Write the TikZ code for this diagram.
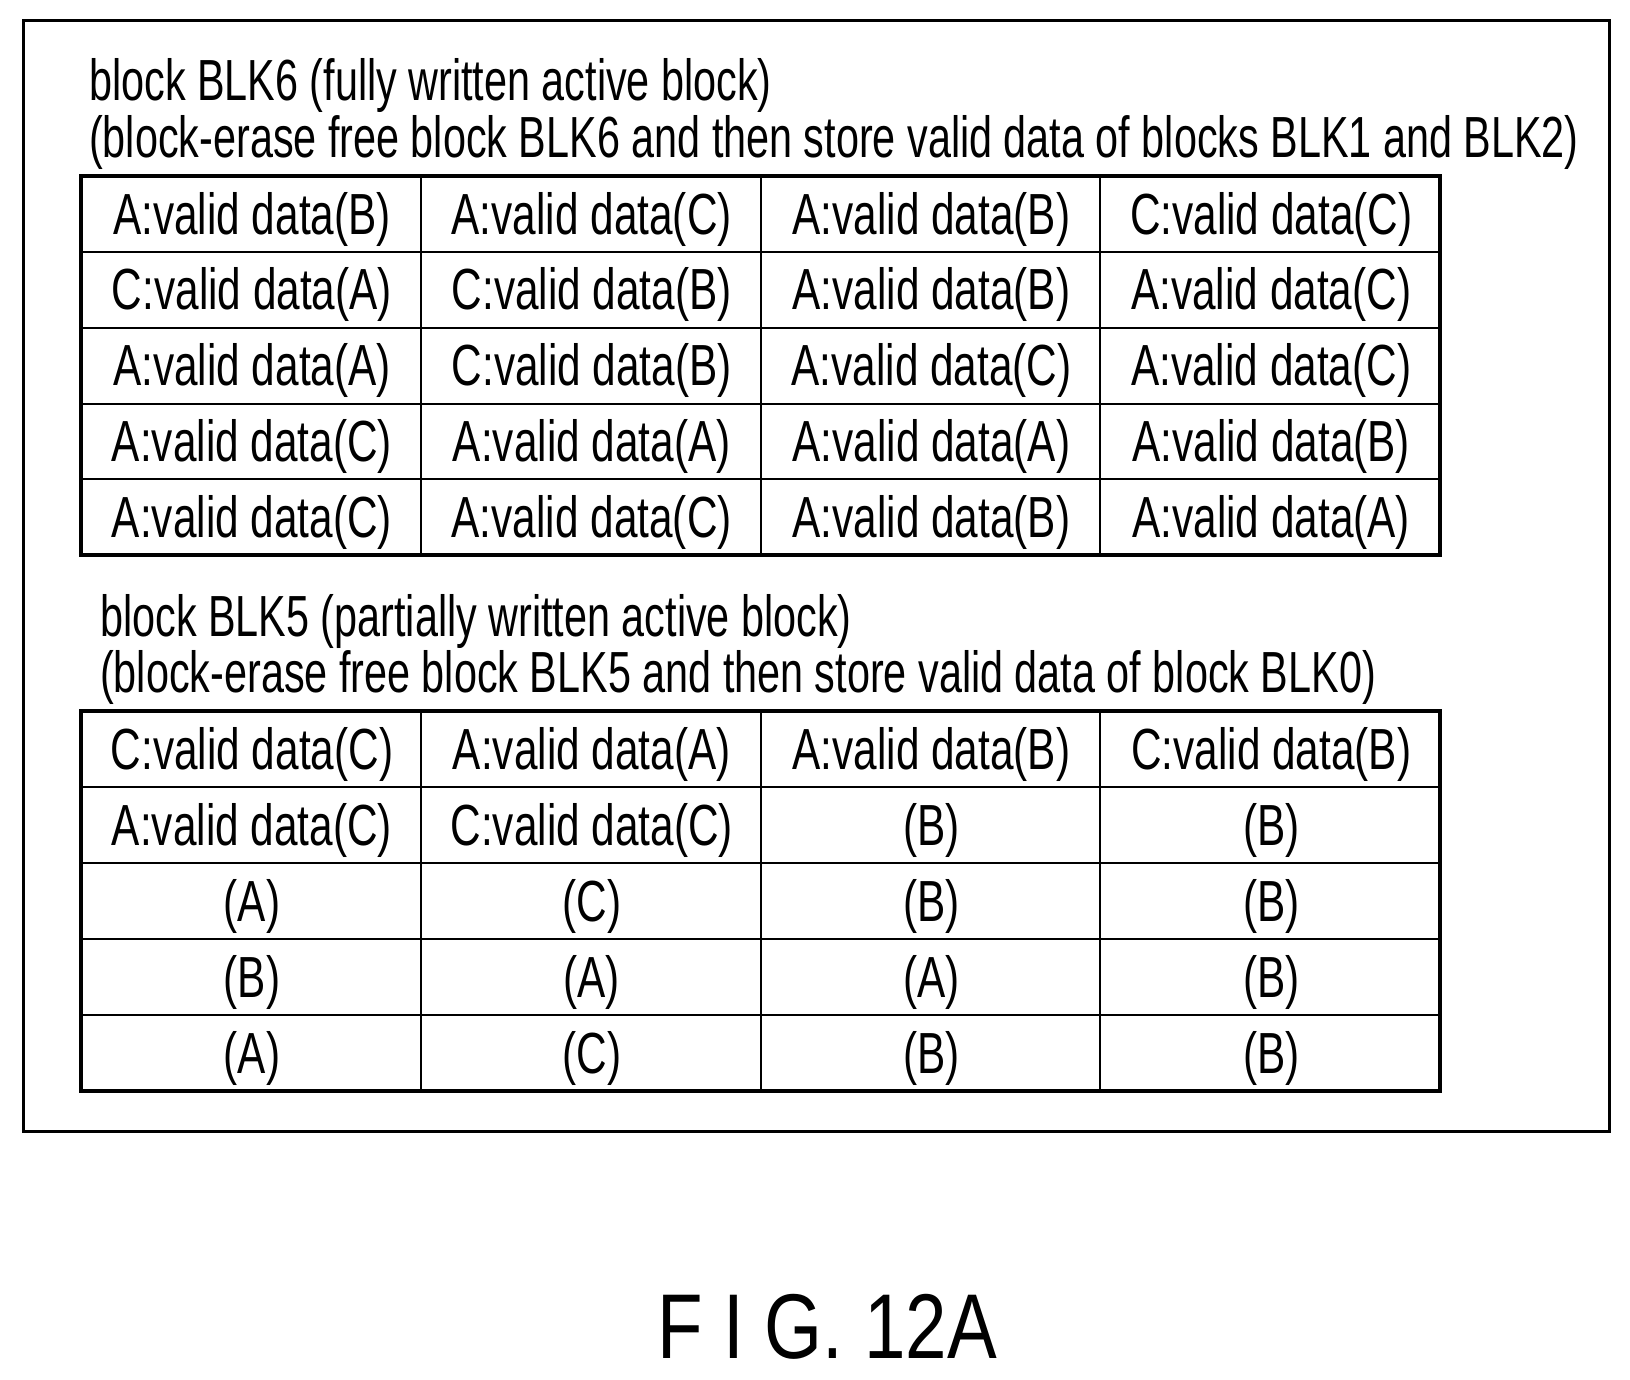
\documentclass[tikz,border=0pt]{standalone}
\usepackage{fontspec}
\setmainfont{Liberation Sans}
\newcommand{\nar}[1]{\scalebox{0.73}[1]{#1}}
\newcommand{\tnar}[1]{\scalebox{0.713}[1]{#1}}
\begin{document}
\begin{tikzpicture}[x=1pt,y=-1pt,
  cell/.style={inner sep=0pt,font=\fontsize{58}{60}\selectfont},
  ttl/.style={inner sep=0pt,anchor=west,font=\fontsize{58}{60}\selectfont},
  thick line/.style={line width=4pt},
  thin line/.style={line width=2pt}]
\useasboundingbox (0,0) rectangle (1630,1380);
\draw[line width=3pt] (23,21) rectangle (1609,1131);
\node[ttl] (t1) at (89,86) {\tnar{block BLK6 (fully written active block)}};
\node[ttl] (t2) at (89,142) {\tnar{(block-erase free block BLK6 and then store valid data of blocks BLK1 and BLK2)}};
\node[ttl] (t3) at (100,622) {\tnar{block BLK5 (partially written active block)}};
\node[ttl] (t4) at (100,677) {\tnar{(block-erase free block BLK5 and then store valid data of block BLK0)}};
% table 1
\foreach \y in {252,328,404,479}{\draw[thin line] (81,\y) -- (1440,\y);}
\foreach \x in {421,761,1100}{\draw[thin line] (\x,176) -- (\x,555);}
\draw[thick line] (81,176) rectangle (1440,555);
\foreach \y in {787,863,939,1015}{\draw[thin line] (81,\y) -- (1440,\y);}
\foreach \x in {421,761,1100}{\draw[thin line] (\x,711) -- (\x,1091);}
\draw[thick line] (81,711) rectangle (1440,1091);
\foreach \r/\row in {0/{A:valid data(B),A:valid data(C),A:valid data(B),C:valid data(C)},
  1/{C:valid data(A),C:valid data(B),A:valid data(B),A:valid data(C)},
  2/{A:valid data(A),C:valid data(B),A:valid data(C),A:valid data(C)},
  3/{A:valid data(C),A:valid data(A),A:valid data(A),A:valid data(B)},
  4/{A:valid data(C),A:valid data(C),A:valid data(B),A:valid data(A)}}{
  \foreach \t [count=\c from 0] in \row {
    \node[cell] (a\r\c) at ({252+339.75*\c},{219+75.8*\r}) {\nar{\t}};}}
\foreach \r/\row in {0/{C:valid data(C),A:valid data(A),A:valid data(B),C:valid data(B)},
  1/{A:valid data(C),C:valid data(C),(B),(B)},
  2/{(A),(C),(B),(B)},
  3/{(B),(A),(A),(B)},
  4/{(A),(C),(B),(B)}}{
  \foreach \t [count=\c from 0] in \row {
    \node[cell] (b\r\c) at ({252+339.75*\c},{754+76*\r}) {\nar{\t}};}}
\node[inner sep=0pt,font=\fontsize{92}{92}\selectfont] (fig) at (827,1327) {\scalebox{0.81}[1]{F I G. 12A}};
\end{tikzpicture}
\end{document}
